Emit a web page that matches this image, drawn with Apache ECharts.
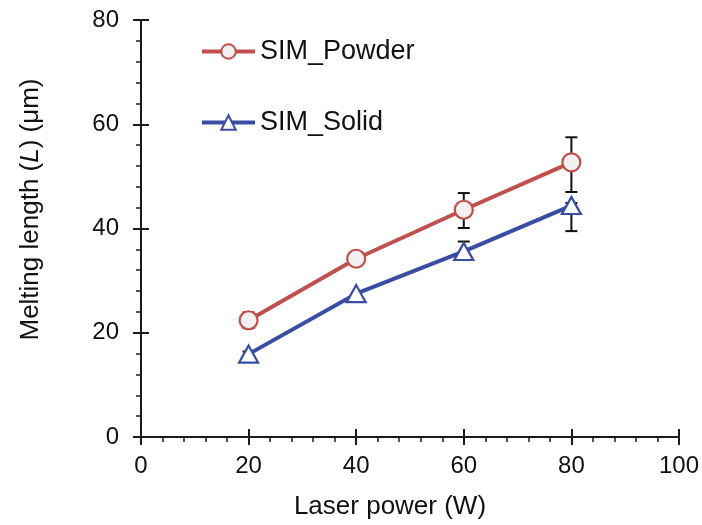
<!DOCTYPE html>
<html><head><meta charset="utf-8">
<script src="https://cdn.jsdelivr.net/npm/echarts@6/dist/echarts.min.js"></script>
<style>html,body{margin:0;padding:0;background:#fff}#c{width:702px;height:525px}</style>
</head><body><div id="c"></div>
<script>
const laserPower = [20, 40, 60, 80];
const simPowder = [22.4, 34.2, 43.6, 52.7];
const simSolid = [15.9, 27.5, 35.6, 44.4];
const powderErrLow = [20.9, 34.2, 40.1, 47.0];
const powderErrHigh = [23.9, 34.2, 46.8, 57.5];
const solidErrLow = [15.3, 27.5, 34.5, 39.5];
const solidErrHigh = [16.4, 27.5, 37.5, 44.9];
const xTicks = [0, 20, 40, 60, 80, 100];
const yTicks = [0, 20, 40, 60, 80];

const font = '"Liberation Sans", Arial, sans-serif';
const RED = '#C0504D', BLUE = '#3A4DA3';

function errData(lo, hi){ return laserPower.map((x,i)=>[x, lo[i], hi[i]]); }
function errRender(params, api){
  const x = api.value(0);
  const p1 = api.coord([x, api.value(1)]);
  const p2 = api.coord([x, api.value(2)]);
  if (Math.abs(p1[1]-p2[1]) < 0.5) return null;
  const hw = 6;
  const st = {stroke:'#111', lineWidth:2};
  return {type:'group', children:[
    {type:'line', shape:{x1:p1[0],y1:p1[1],x2:p2[0],y2:p2[1]}, style:st},
    {type:'line', shape:{x1:p1[0]-hw,y1:p1[1],x2:p1[0]+hw,y2:p1[1]}, style:st},
    {type:'line', shape:{x1:p2[0]-hw,y1:p2[1],x2:p2[0]+hw,y2:p2[1]}, style:st}
  ]};
}

const axisLineStyle = {color:'#1a1a1a', width:2};
const chart = echarts.init(document.getElementById('c'), null, {renderer:'canvas'});
chart.setOption({
  animation:false,
  backgroundColor:'#fff',
  grid:{left:141, right:23, top:20, bottom:87},
  legend:{
    left:200, top:38, orient:'vertical', itemGap:44, itemWidth:53, itemHeight:18, padding:0,
    textStyle:{fontFamily:font, fontSize:27, color:'#111'},
    lineStyle:{width:4},
    data:['SIM_Powder','SIM_Solid']
  },
  xAxis:[{
    type:'value', min:xTicks[0], max:xTicks[xTicks.length-1], interval:20,
    name:'Laser power (W)', nameLocation:'middle', nameGap:57,
    nameTextStyle:{fontFamily:font, fontSize:26, color:'#111', padding:[0,40,0,0]},
    axisLine:{show:true, onZero:false, lineStyle:axisLineStyle},
    axisTick:{show:true, inside:false, length:8, lineStyle:axisLineStyle},
    minorTick:{show:true, splitNumber:5, length:5, lineStyle:{color:'#1a1a1a', width:1.5}},
    axisLabel:{fontFamily:font, fontSize:24, color:'#111', margin:17},
    splitLine:{show:false}
  },{
    type:'value', min:0, max:100, interval:20, position:'bottom',
    axisLine:{show:false}, axisLabel:{show:false}, splitLine:{show:false},
    axisTick:{show:true, inside:true, length:8, lineStyle:axisLineStyle}
  }],
  yAxis:[{
    type:'value', min:yTicks[0], max:yTicks[yTicks.length-1], interval:20,
    name:'{n|Melting length (}{i|L}{n|) (μm)}', nameLocation:'middle', nameGap:97,
    nameTextStyle:{padding:[0,0,0,38], rich:{
      n:{fontFamily:font, fontSize:26, color:'#111'},
      i:{fontFamily:font, fontSize:26, color:'#111', fontStyle:'italic'}
    }},
    axisLine:{show:true, onZero:false, lineStyle:axisLineStyle},
    axisTick:{show:true, inside:false, length:8, lineStyle:axisLineStyle},
    minorTick:{show:true, splitNumber:5, length:5, lineStyle:{color:'#1a1a1a', width:1.5}},
    axisLabel:{fontFamily:font, fontSize:24, color:'#111', margin:22},
    splitLine:{show:false}
  },{
    type:'value', min:0, max:80, interval:20, position:'left',
    axisLine:{show:false}, axisLabel:{show:false}, splitLine:{show:false},
    axisTick:{show:true, inside:true, length:8, lineStyle:axisLineStyle}
  }],
  series:[
    {type:'custom', name:'errP', renderItem:errRender, data:errData(powderErrLow, powderErrHigh), z:1, encode:{x:0,y:[1,2]}},
    {type:'custom', name:'errS', renderItem:errRender, data:errData(solidErrLow, solidErrHigh), z:1, encode:{x:0,y:[1,2]}},
    {type:'line', name:'SIM_Powder', data:laserPower.map((x,i)=>[x, simPowder[i]]),
      symbol:'circle', symbolSize:18, z:3,
      lineStyle:{color:RED, width:4}, itemStyle:{color:'#F0F1F0', borderColor:RED, borderWidth:2.2}},
    {type:'line', name:'SIM_Solid', data:laserPower.map((x,i)=>[x, simSolid[i]]),
      symbol:'triangle', symbolSize:[19,17], z:3,
      lineStyle:{color:BLUE, width:4}, itemStyle:{color:'#ffffff', borderColor:BLUE, borderWidth:2.2}}
  ]
});
</script></body></html>
